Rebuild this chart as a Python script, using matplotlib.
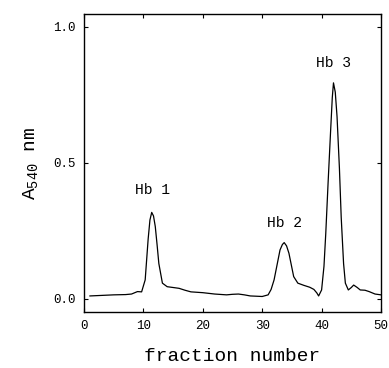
import matplotlib
matplotlib.use('Agg')
import matplotlib.pyplot as plt

# valores (fraccion, absorbancia a 540 nm)
fraccion = [1, 3, 5, 7, 8, 9, 9.7, 10.3, 10.8, 11.1, 11.4, 11.7, 12, 12.3, 12.6,
            13.2, 14, 15, 16, 17, 18, 20, 22, 24, 25, 26, 27, 28, 30, 31, 31.5,
            32, 32.5, 33, 33.4, 33.7, 34.1, 34.5, 35.3, 36, 37, 38, 38.7, 39.2,
            39.5, 40, 40.4, 40.7, 41.1, 41.5, 41.8, 42, 42.3, 42.6, 43, 43.3,
            43.7, 44, 44.5, 45, 45.4, 46, 46.5, 47.3, 48, 49, 50]
absorbancia = [0.011, 0.013, 0.015, 0.016, 0.018, 0.027, 0.026, 0.07, 0.22, 0.29,
               0.318, 0.305, 0.266, 0.2, 0.13, 0.058, 0.045, 0.042, 0.039, 0.032,
               0.026, 0.023, 0.018, 0.015, 0.017, 0.018, 0.015, 0.011, 0.009,
               0.015, 0.035, 0.07, 0.125, 0.18, 0.2, 0.207, 0.195, 0.168, 0.082,
               0.058, 0.05, 0.043, 0.035, 0.022, 0.011, 0.033, 0.12, 0.24, 0.43,
               0.61, 0.74, 0.794, 0.76, 0.67, 0.48, 0.30, 0.13, 0.058, 0.033,
               0.042, 0.051, 0.042, 0.033, 0.032, 0.027, 0.018, 0.015]

etiquetas = ['Hb 1', 'Hb 2', 'Hb 3']
etiq_x = [11.6, 33.7, 42]
etiq_y = [0.40, 0.28, 0.867]

plt.rcParams['font.family'] = ['Liberation Mono', 'DejaVu Sans Mono']

fig = plt.figure(figsize=(3.89, 3.68), dpi=100)
ax = fig.add_axes([84/389, 1 - 312/368, 297/389, 298/368])

ax.plot(fraccion, absorbancia, color='black', lw=0.9)

for t, x, y in zip(etiquetas, etiq_x, etiq_y):
    ax.text(x, y, t, ha='center', va='center', fontsize=10.5)

ax.set_xlim(0, 50)
ax.set_ylim(-0.048, 1.047)
ax.set_xticks([0, 10, 20, 30, 40, 50])
ax.set_yticks([0.0, 0.5, 1.0])
ax.set_yticklabels(['0.0', '0.5', '1.0'])
ax.tick_params(direction='in', length=3, width=0.8, top=True, right=True,
               labelsize=9, pad=6)
for s in ax.spines.values():
    s.set_linewidth(1.0)

ax.set_xlabel('fraction number', fontsize=14, labelpad=11)
ax.set_ylabel('A$_{\\mathregular{540}}$ nm', fontsize=14, labelpad=9)

fig.savefig('out.png', dpi=100)
